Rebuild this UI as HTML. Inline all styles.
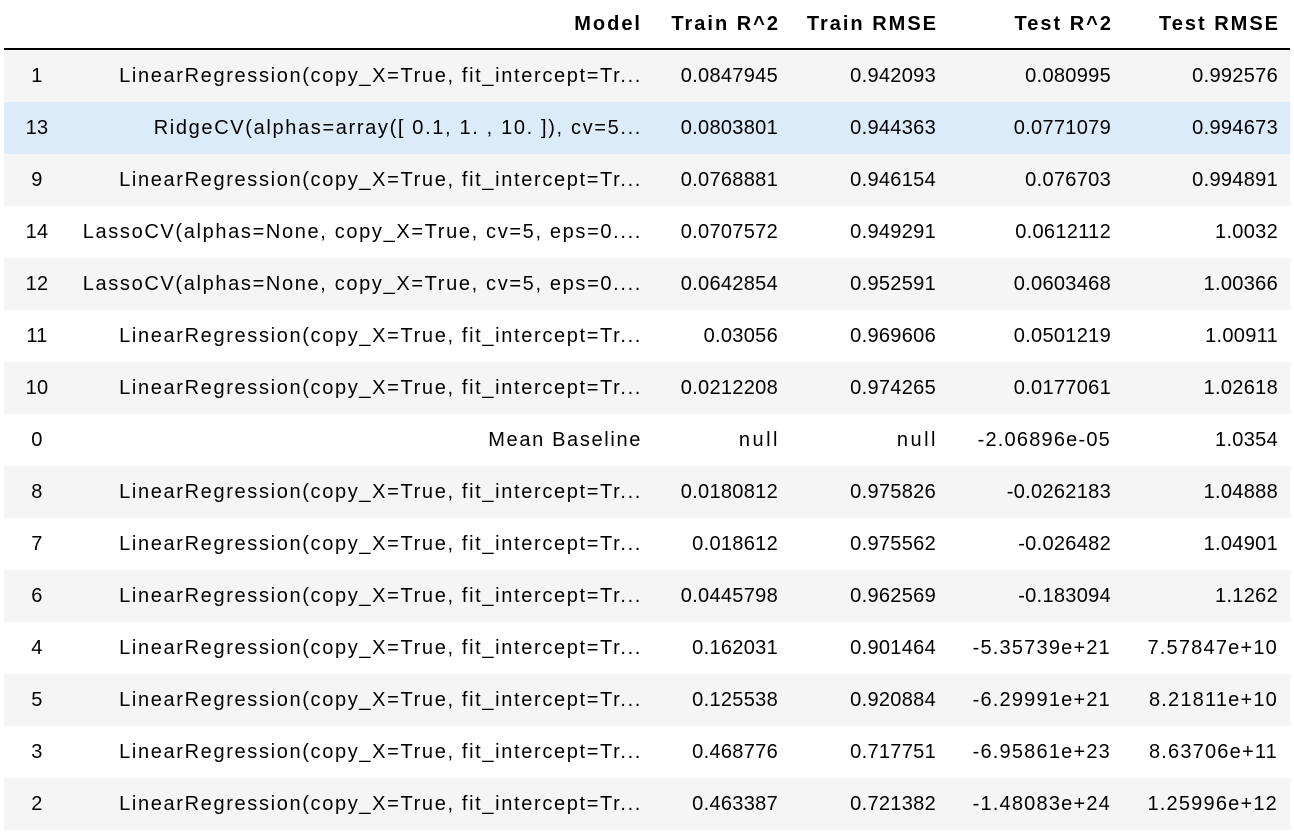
<!DOCTYPE html>
<html><head><meta charset="utf-8"><style>
body{margin:0;background:#fff;font-family:"Liberation Sans",Arial,sans-serif;font-size:20px;color:#000;width:1294px;height:836px;overflow:hidden}
table{position:absolute;left:4px;top:0;border-collapse:collapse;table-layout:fixed;width:1286px}
th,td{padding:0 10px;text-align:right;white-space:nowrap;overflow:hidden}
th{height:48px;font-weight:bold;border-bottom:2px solid #000;vertical-align:middle;letter-spacing:2px;padding-right:8px}
td{height:52px;letter-spacing:0.3px}
td.m{letter-spacing:1.65px;padding-right:8px}
td.i{text-align:center;padding:0}
td.n{letter-spacing:2.5px;padding-right:8px}
tr.odd td{background:#f5f5f5}
tr.hov td{background:#dcebf9}
</style></head><body>
<table>
<colgroup><col style="width:66px"><col style="width:580px"><col style="width:138px"><col style="width:158px"><col style="width:175px"><col style="width:169px"></colgroup>
<thead><tr><th></th><th>Model</th><th>Train R^2</th><th>Train RMSE</th><th>Test R^2</th><th style="padding-right:10px">Test RMSE</th></tr></thead>
<tbody id="tb"></tbody>
</table>
<script>
const idx=[1,13,9,14,12,11,10,0,8,7,6,4,5,3,2];
const LR="LinearRegression(copy_X=True, fit_intercept=Tr...";
const LC="LassoCV(alphas=None, copy_X=True, cv=5, eps=0....";
const models=[LR,"RidgeCV(alphas=array([ 0.1, 1. , 10. ]), cv=5...",LR,LC,LC,LR,LR,"Mean Baseline",LR,LR,LR,LR,LR,LR,LR];
const trainR2=["0.0847945","0.0803801","0.0768881","0.0707572","0.0642854","0.03056","0.0212208","null","0.0180812","0.018612","0.0445798","0.162031","0.125538","0.468776","0.463387"];
const trainRMSE=["0.942093","0.944363","0.946154","0.949291","0.952591","0.969606","0.974265","null","0.975826","0.975562","0.962569","0.901464","0.920884","0.717751","0.721382"];
const testR2=["0.080995","0.0771079","0.076703","0.0612112","0.0603468","0.0501219","0.0177061","-2.06896e-05","-0.0262183","-0.026482","-0.183094","-5.35739e+21","-6.29991e+21","-6.95861e+23","-1.48083e+24"];
const testRMSE=["0.992576","0.994673","0.994891","1.0032","1.00366","1.00911","1.02618","1.0354","1.04888","1.04901","1.1262","7.57847e+10","8.21811e+10","8.63706e+11","1.25996e+12"];
const tb=document.getElementById('tb');
idx.forEach((v,r)=>{
  const tr=document.createElement('tr');
  
  
  if(r%2===0)tr.className='odd';
  if(r===1)tr.className='hov';
  const vals=[v,models[r],trainR2[r],trainRMSE[r],testR2[r],testRMSE[r]];
  const names=['index-cell','model-cell','train-r2-cell','train-rmse-cell','test-r2-cell','test-rmse-cell'];
  vals.forEach((t,c)=>{
    const td=document.createElement('td');
    
    
    if(c===0)td.className='i';
    else if(c===1)td.className='m';
    else if(t==='null')td.className='n';
    else if(/e/.test(String(t)))td.style.letterSpacing='1.2px';
    if(c===5)td.style.paddingRight='12px';
    td.textContent=t;
    tr.appendChild(td);
  });
  tb.appendChild(tr);
});
</script>
</body></html>
